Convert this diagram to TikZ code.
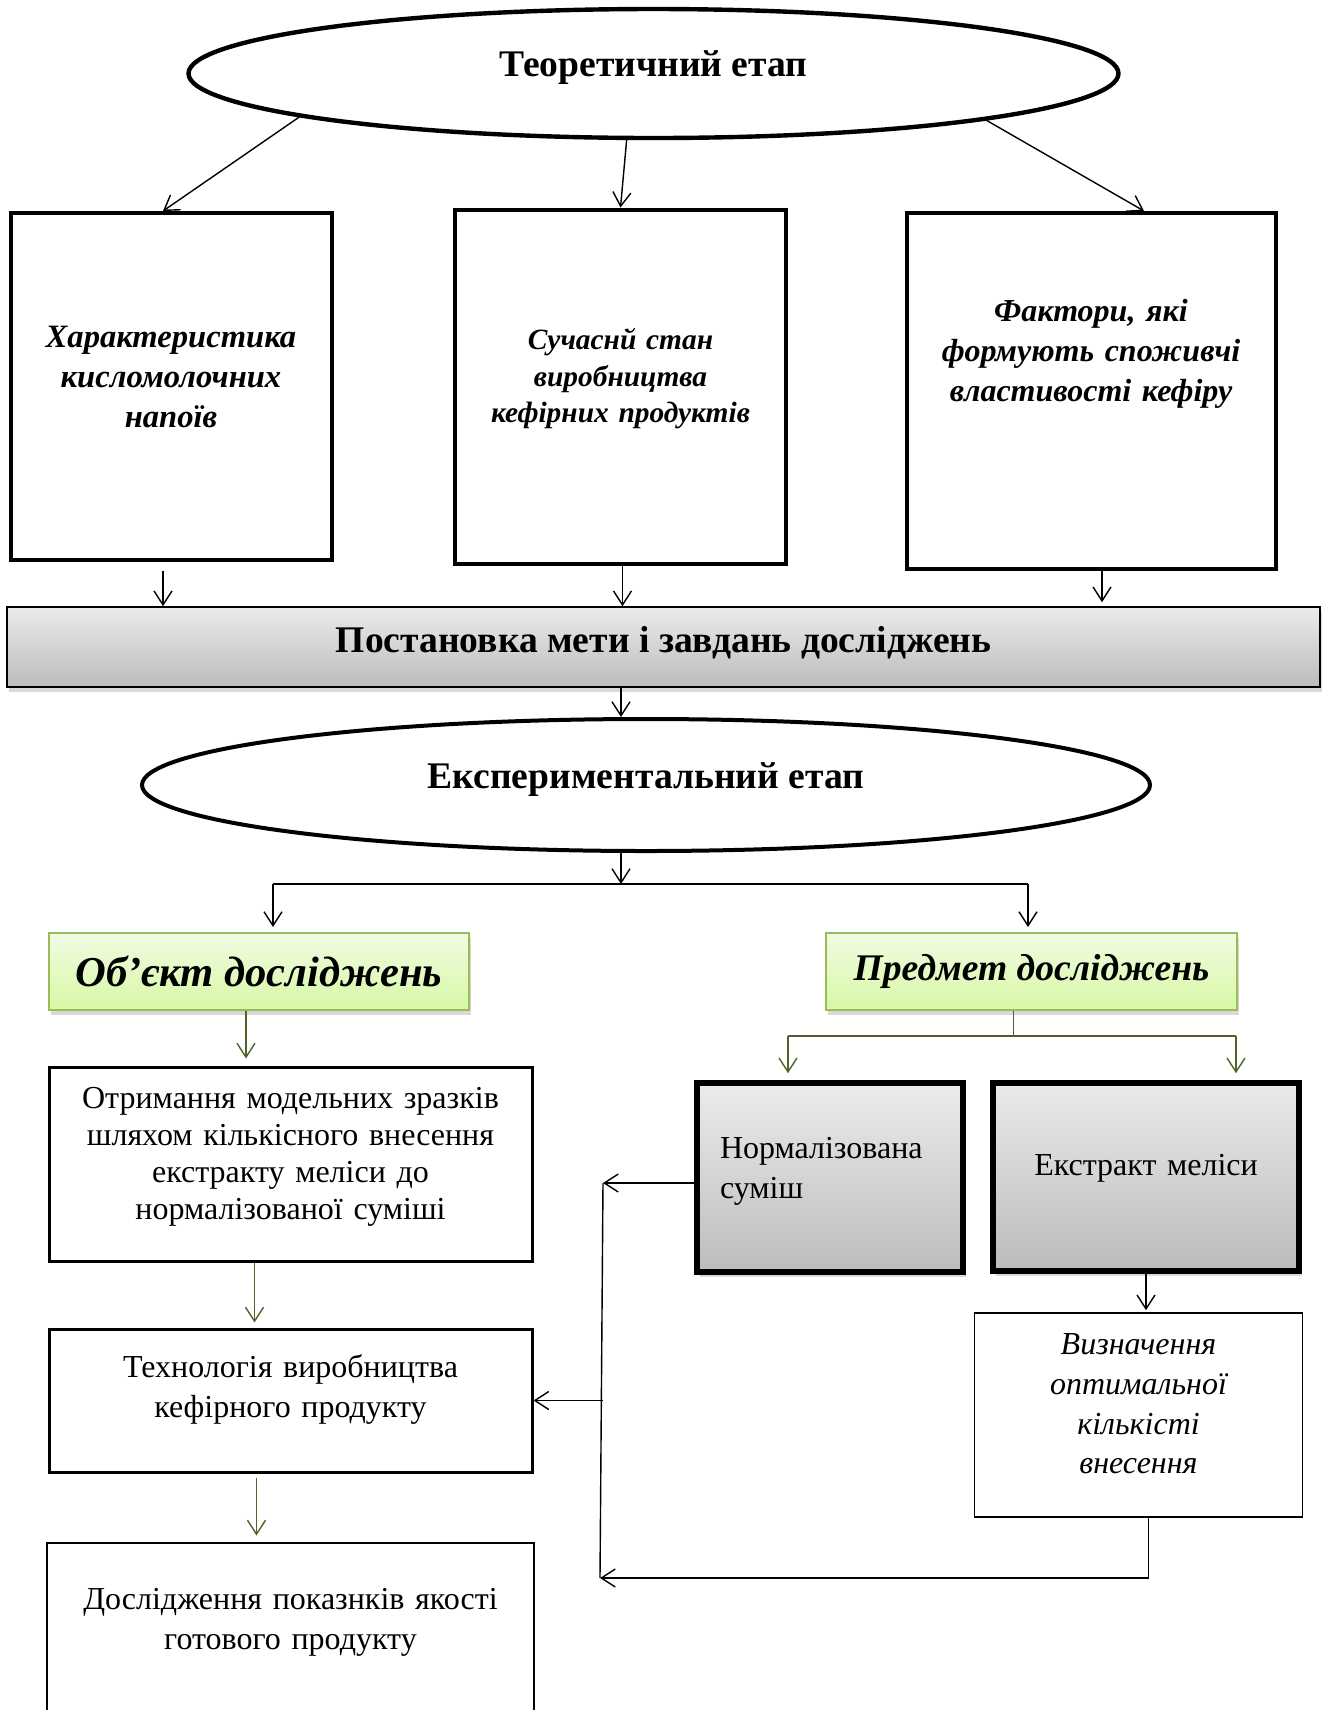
\documentclass[tikz,border=0pt]{standalone}
\usepackage{fontspec}
\setmainfont{Liberation Serif}
\usetikzlibrary{shapes.geometric, arrows.meta, positioning, shadows}

\definecolor{leafline}{HTML}{9BBB59}
\definecolor{leaftop}{HTML}{F1FCE3}
\definecolor{leafbot}{HTML}{D6F8A4}
\definecolor{olivearrow}{HTML}{4F6228}
\definecolor{greytop}{HTML}{EBEBEB}
\definecolor{greybot}{HTML}{BCBCBC}

% invisible strut under the text pushes it up inside its box
\newcommand{\lift}[1]{\par\hrule height #1 width 0pt}

\begin{document}
\begin{tikzpicture}[
    x=0.5pt, y=-0.5pt,
    stage/.style={ellipse, draw, line width=2.2pt, inner sep=0pt, text height=13pt, text depth=10pt, font=\fontsize{18.8}{22}\selectfont\bfseries},
    theme/.style={rectangle, draw, line width=2pt, align=center, font=\fontsize{16.3}{20}\selectfont\bfseries\itshape},
    goalbar/.style={rectangle, draw, line width=0.8pt, top color=greytop, bottom color=greybot, drop shadow={opacity=0.3, shadow xshift=1pt, shadow yshift=-2.5pt}, text height=13pt, text depth=8pt, font=\fontsize{18.8}{22}\selectfont\bfseries},
    leaf/.style={rectangle, draw=leafline, line width=1pt, top color=leaftop, bottom color=leafbot, drop shadow={opacity=0.3, shadow xshift=1pt, shadow yshift=-2.5pt}, font=\bfseries\itshape},
    plain/.style={rectangle, draw, line width=1.5pt, align=center, font=\fontsize{16}{18.4}\selectfont},
    greybox/.style={rectangle, draw, line width=2.8pt, top color=greytop, bottom color=greybot, drop shadow={opacity=0.3, shadow xshift=1.5pt, shadow yshift=-2.5pt}, font=\fontsize{16}{20}\selectfont},
    arrow/.style={-{Straight Barb[length=7pt,width=9pt]}, line width=0.7pt},
    greenarrow/.style={arrow, draw=olivearrow},
    greenline/.style={line width=0.8pt, draw=olivearrow},
]
    \useasboundingbox (0,0) rectangle (1327,1710);

    \node[stage, minimum width=465pt, minimum height=64.5pt] (theor) at (653.5,73.5) {Теоретичний етап};

    \node[theme, minimum width=160.5pt, minimum height=173.5pt, text width=150pt] (charact) at (171,386.5)
        {Характеристика\\ кисломолочних\\ напоїв\lift{10pt}};
    \node[theme, minimum width=165.5pt, minimum height=177pt, text width=155pt, font=\fontsize{14.7}{18.3}\selectfont\bfseries\itshape] (state) at (620.5,386.5)
        {Сучаснй стан\\ виробництва\\ кефірних продуктів\lift{7.6pt}};
    \node[theme, minimum width=184.5pt, minimum height=178pt, text width=175pt, font=\fontsize{16}{20}\selectfont\bfseries\itshape] (factors) at (1091,391)
        {Фактори, які\\ формують споживчі\\ властивості кефіру\lift{37.6pt}};

    \node[goalbar, minimum width=656.5pt, minimum height=40pt] (goal) at (663.5,647) {Постановка мети і завдань досліджень};

    \node[stage, line width=2pt, minimum width=504pt, minimum height=66pt] (exper) at (646,785) {Експериментальний етап};

    \node[leaf, minimum width=210pt, minimum height=38.5pt, font=\fontsize{21.3}{25}\selectfont\bfseries\itshape] (object) at (259,971.5) {Об’єкт досліджень};
    \node[leaf, minimum width=205.5pt, minimum height=38.5pt, font=\fontsize{18.8}{23}\selectfont\bfseries\itshape] (subject) at (1031.5,971.5) {Предмет досліджень};

    \node[plain, minimum width=241.5pt, minimum height=97pt, text width=230pt] (obtain) at (290.5,1164)
        {Отримання модельних зразків\\ шляхом кількісного внесення\\ екстракту меліси до\\ нормалізованої суміші\lift{7pt}};
    \node[plain, minimum width=241.5pt, minimum height=71.5pt, text width=230pt, font=\fontsize{16}{20}\selectfont, below=32.5pt of obtain] (tech)
        {Технологія виробництва\\ кефірного продукту\lift{11pt}};
    \node[plain, line width=1pt, minimum width=243.5pt, minimum height=130pt, text width=230pt, font=\fontsize{16}{20}\selectfont, below=34pt of tech] (quality)
        {Дослідження показнків якості\\ готового продукту\lift{50pt}};

    \node[greybox, minimum width=133pt, minimum height=94.5pt, text width=110pt, align=left] (norm) at (830,1177.5)
        {Нормалізована\\ суміш\lift{6.5pt}};
    \node[greybox, minimum width=153pt, minimum height=94pt, text width=140pt, align=center] (extract) at (1146,1177)
        {Екстракт меліси\lift{8.7pt}};
    \node[plain, line width=0.8pt, minimum width=164pt, minimum height=102pt, text width=150pt, font=\fontsize{16}{19.8}\selectfont\itshape] (determ) at (1138.5,1415)
        {Визначення\\ оптимальної\\ кількісті\\ внесення\lift{11pt}};

    \coordinate (fork) at (621,884);
    \coordinate (forkL) at (273,884);
    \coordinate (forkR) at (1028,884);
    \coordinate (branchL) at (788,1036);
    \coordinate (branchR) at (1236,1036);
    \coordinate (busTop) at (603,1183);
    \coordinate (busBot) at (600,1578);

    \draw[arrow] (theor.187.2) -- ([xshift=-4pt]charact.north);
    \draw[arrow] (theor.248.5) -- (state.north);
    \draw[arrow] (theor.352.8) -- ([xshift=26.5pt]factors.north);

    \draw[arrow] ([xshift=-4pt,yshift=-4.5pt]charact.south) -- ([xshift=-4pt]charact.south |- goal.north);
    \draw[arrow] ([xshift=1pt]state.south) -- ([xshift=1pt]state.south |- goal.north);
    \draw[arrow] ([xshift=5.5pt]factors.south) -- ([xshift=5.5pt,yshift=2pt]factors.south |- goal.north);

    \draw[arrow] (goal.south -| fork) -- (exper.north -| fork);
    \draw[arrow] (exper.south -| fork) -- (fork);
    \draw[line width=1pt] (forkL) -- (forkR);
    \draw[arrow] (forkL) -- ([yshift=2.5pt]forkL |- object.north);
    \draw[arrow] (forkR) -- ([yshift=2.5pt]forkR |- subject.north);

    \draw[greenarrow] ([xshift=-6.5pt]object.south) -- ([xshift=-6.5pt,yshift=3.5pt]object.south |- obtain.north);
    \draw[greenarrow] ([xshift=-18pt]obtain.south) -- ([xshift=-18pt,yshift=2.5pt]obtain.south |- tech.north);
    \draw[greenarrow] ([xshift=-17pt,yshift=-2pt]tech.south) -- ([xshift=-17pt,yshift=3pt]tech.south |- quality.north);

    \draw[greenline] ([xshift=-9pt]subject.south) -- ([xshift=-9pt]subject.south |- branchL);
    \draw[greenline] (branchL) -- (branchR);
    \draw[greenarrow] (branchL) -- ([yshift=3.5pt]branchL |- norm.north);
    \draw[greenarrow] (branchR) -- ([yshift=3.5pt]branchR |- extract.north);

    \draw[arrow] (extract.south) -- ([yshift=1pt]extract.south |- determ.north);

    \draw[arrow] (norm.west |- busTop) -- (busTop);
    \draw[line width=0.7pt] (busTop) -- (busBot);
    \draw[arrow] (tech.east -| busTop) -- (tech.east);
    \draw[arrow] ([xshift=5pt]determ.south) |- (busBot);
\end{tikzpicture}
\end{document}
